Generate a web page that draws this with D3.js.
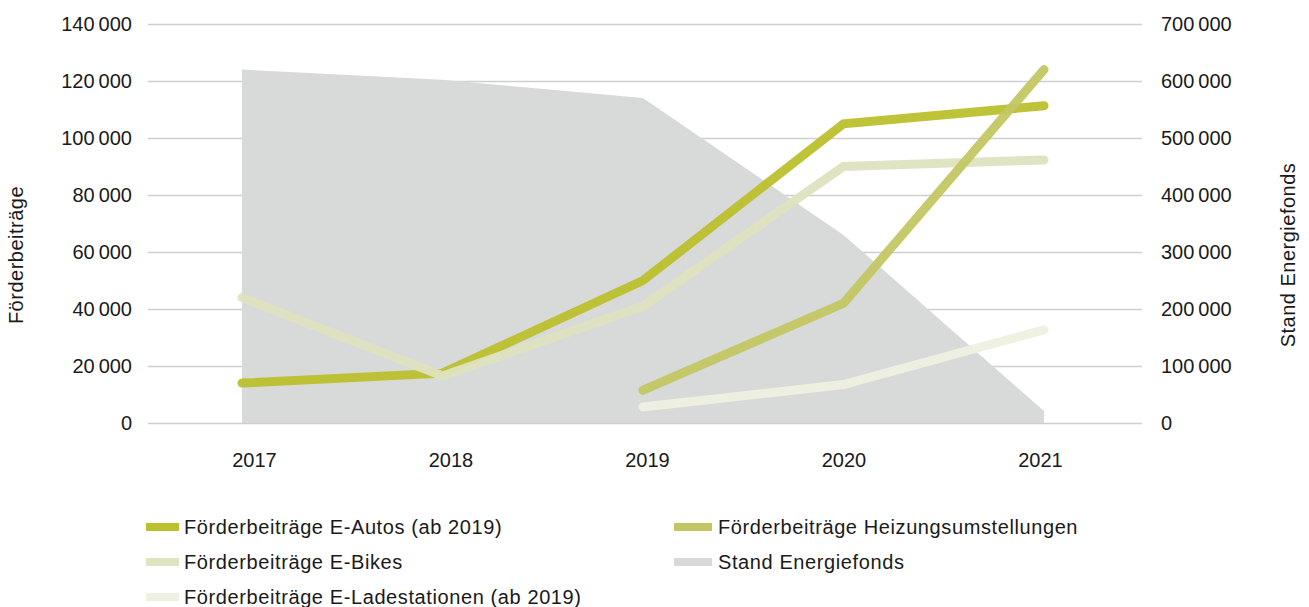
<!DOCTYPE html>
<html>
<head>
<meta charset="utf-8">
<script src="https://cdn.jsdelivr.net/npm/d3@7"></script>
<style>
  html, body { margin: 0; padding: 0; background: #ffffff; }
  svg { display: block; }
  text { font-family: "Liberation Sans", Arial, sans-serif; fill: #1a1a1a; }
</style>
</head>
<body>
<svg id="chart" width="1309" height="607"></svg>
<script>
// Jahre
const years = ["2017", "2018", "2019", "2020", "2021"];

// Förderbeiträge (linke Achse)
const eAutos        = [14000, 17500, 50000, 105000, 111300];
const eBikes        = [44000, 16500, 41000, 90000, 92300];
const heizung       = [null, null, 11500, 42000, 124000];
const ladestationen = [null, null, 5600, 13500, 32700];

// Stand Energiefonds (rechte Achse)
const energiefonds  = [620000, 602000, 570000, 330000, 21000];

const leftTicks  = [0, 20000, 40000, 60000, 80000, 100000, 120000, 140000];
const rightTicks = [0, 100000, 200000, 300000, 400000, 500000, 600000, 700000];

const legendItems = [
  { name: "Förderbeiträge E-Autos (ab 2019)", color: "#bcc02c" },
  { name: "Förderbeiträge Heizungsumstellungen", color: "#c3c763" },
  { name: "Förderbeiträge E-Bikes", color: "#dfe3c0" },
  { name: "Stand Energiefonds", color: "#d8dad9" },
  { name: "Förderbeiträge E-Ladestationen (ab 2019)", color: "#eef0e1" }
];

const svg = d3.select("#chart");
const plotLeft = 148, plotRight = 1142, plotTop = 24, plotBottom = 423;

const x = d3.scalePoint().domain(years).range([242, 1044]);
const xLabels = d3.scalePoint().domain(years).range([254, 1040]);
const yL = d3.scaleLinear().domain([0, 140000]).range([plotBottom, plotTop]);
const yR = d3.scaleLinear().domain([0, 700000]).range([plotBottom, plotTop]);

// thousands separated by a thin space
const fmt = v => d3.format(",")(v).replace(/,/g, "\u2009");

// Gitternetz
svg.append("g")
  .selectAll("line").data(leftTicks).join("line")
  .attr("x1", plotLeft).attr("x2", plotRight)
  .attr("y1", d => Math.round(yL(d)) + 0.5).attr("y2", d => Math.round(yL(d)) + 0.5)
  .attr("stroke", "#cfcfcf").attr("stroke-width", 1.3);

// Fläche Energiefonds
const area = d3.area()
  .x((d, i) => x(years[i]))
  .y0(yR(0))
  .y1(d => yR(d));
svg.append("path")
  .datum(energiefonds)
  .attr("d", area)
  .attr("fill", "#d8dad9");

// Linien
const line = d3.line()
  .defined(d => d !== null)
  .x((d, i) => x(years[i]))
  .y(d => yL(d));

const series = [
  { values: eAutos, color: "#bcc02c" },
  { values: eBikes, color: "#dfe3c0" },
  { values: ladestationen, color: "#eef0e1" },
  { values: heizung, color: "#c3c763" }
];
svg.append("g").selectAll("path").data(series).join("path")
  .attr("d", d => line(d.values))
  .attr("fill", "none")
  .attr("stroke", d => d.color)
  .attr("stroke-width", 9)
  .attr("stroke-linecap", "round")
  .attr("stroke-linejoin", "miter")
  .attr("stroke-opacity", 0.95);

// Achsen
const fontSize = 20;
const styleTicks = sel => sel.selectAll("text")
  .style("font-size", fontSize + "px")
  .style("font-family", "'Liberation Sans', Arial, sans-serif")
  .attr("fill", "#1a1a1a");

svg.append("g").attr("transform", `translate(132,0)`)
  .call(d3.axisLeft(yL).tickValues(leftTicks).tickFormat(fmt).tickSize(0).tickPadding(0))
  .call(g => g.select(".domain").remove())
  .call(styleTicks);

svg.append("g").attr("transform", `translate(1161,0)`)
  .call(d3.axisRight(yR).tickValues(rightTicks).tickFormat(fmt).tickSize(0).tickPadding(0))
  .call(g => g.select(".domain").remove())
  .call(styleTicks);

svg.append("g").attr("transform", `translate(0,453)`)
  .call(d3.axisBottom(xLabels).tickSize(0).tickPadding(0))
  .call(g => g.select(".domain").remove())
  .call(styleTicks);

// Achsentitel
svg.append("text")
  .attr("transform", `translate(23,255) rotate(-90)`)
  .attr("text-anchor", "middle")
  .style("font-size", "20px")
  .style("letter-spacing", "0.5px")
  .text("Förderbeiträge");
svg.append("text")
  .attr("transform", `translate(1295,255) rotate(-90)`)
  .attr("text-anchor", "middle")
  .style("font-size", "20px")
  .style("letter-spacing", "0.5px")
  .text("Stand Energiefonds");

// Legende
const legendPos = [
  { x: 146, y: 527 }, { x: 674, y: 527 },
  { x: 146, y: 562 }, { x: 674, y: 562 },
  { x: 146, y: 597 }
];
const lg = svg.append("g").selectAll("g").data(legendItems).join("g")
  .attr("transform", (d, i) => `translate(${legendPos[i].x},${legendPos[i].y})`);
lg.append("rect")
  .attr("x", 0).attr("y", -4).attr("width", (d, i) => i % 2 === 0 ? 33 : 38).attr("height", 8)
  .attr("fill", d => d.color);
lg.append("text")
  .attr("x", (d, i) => i % 2 === 0 ? 38 : 44)
  .attr("dy", "0.35em")
  .style("font-size", fontSize + "px")
  .style("letter-spacing", "0.6px")
  .text(d => d.name);
</script>
</body>
</html>
